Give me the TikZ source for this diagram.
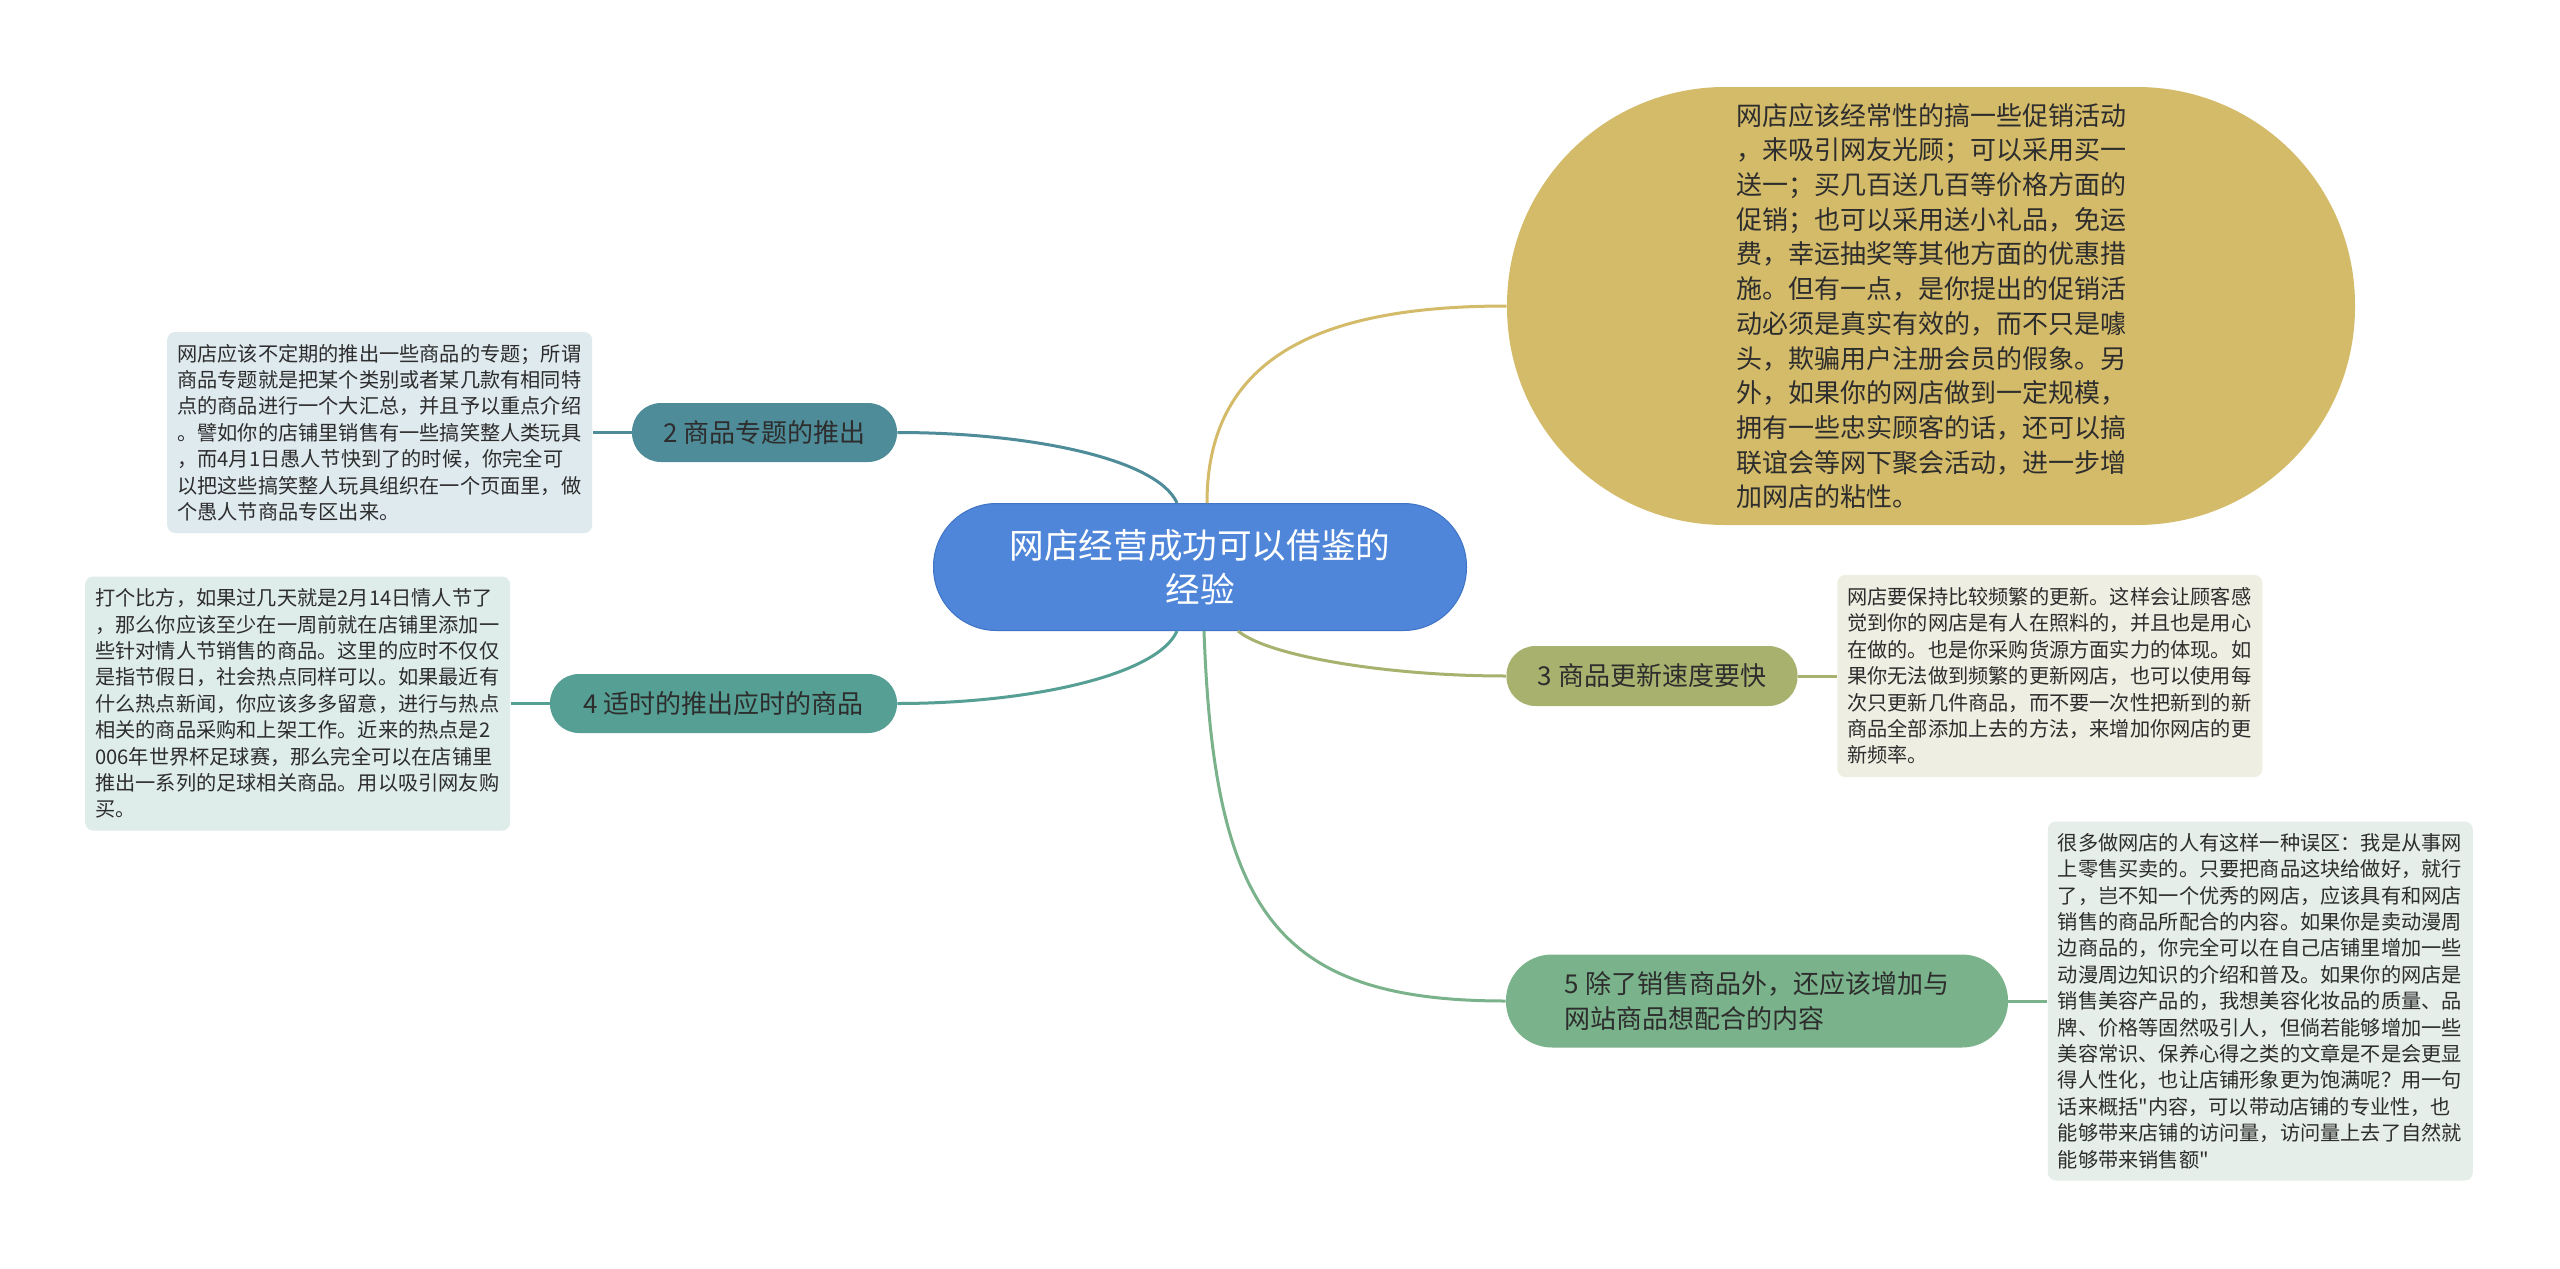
\documentclass[tikz,border=0pt]{standalone}
\usepackage{fontspec}
\usepackage{xcolor}
\usepackage{tikz}
\usetikzlibrary{positioning}
\newfontfamily\cjkfont{Noto Sans CJK SC}

\definecolor{rootblue}{RGB}{79,134,217}
\definecolor{rootedge}{RGB}{64,116,196}
\definecolor{goldfill}{RGB}{212,187,106}
\definecolor{tealfill}{RGB}{78,140,153}
\definecolor{seafill}{RGB}{86,159,148}
\definecolor{olivefill}{RGB}{168,177,110}
\definecolor{greenfill}{RGB}{122,179,139}
\definecolor{tealnote}{RGB}{223,234,239}
\definecolor{seanote}{RGB}{222,236,234}
\definecolor{olivenote}{RGB}{238,238,226}
\definecolor{greennote}{RGB}{229,238,232}
\definecolor{inktext}{RGB}{45,45,45}

\begin{document}
\begin{tikzpicture}[
    x=0.5pt, y=-0.5pt,
    node distance=19.5pt,
    topic/.style={rectangle,rounded corners=31.5pt,draw=rootedge,line width=0.5pt,fill=rootblue,text=white,align=center,minimum width=266.5pt,minimum height=63.5pt,font=\cjkfont\fontsize{17.3pt}{22pt}\selectfont},
    branch/.style={rectangle,align=left,text=inktext,minimum height=29.5pt,font=\cjkfont\fontsize{13pt}{17.5pt}\selectfont},
    note/.style={rectangle,rounded corners=4pt,align=left,text width=202.5pt,inner xsep=5pt,text=inktext,font=\cjkfont\fontsize{10.1pt}{13.2pt}\selectfont},
    link/.style={line width=1.5pt}
]
\path[use as bounding box,fill=white] (0,0) rectangle (2560,1269);

\node[topic] (root) at (1200,567) {网店经营成功可以借鉴的\\经验};

\node[branch,fill=goldfill,rounded corners=109pt,minimum width=424pt,minimum height=219pt,text width=195pt,font=\cjkfont\fontsize{13pt}{17.35pt}\selectfont] (n1) at (1931,306) {网店应该经常性的搞一些促销活动\\，来吸引网友光顾；可以采用买一\\送一；买几百送几百等价格方面的\\促销；也可以采用送小礼品，免运\\费，幸运抽奖等其他方面的优惠措\\施。但有一点，是你提出的促销活\\动必须是真实有效的，而不只是噱\\头，欺骗用户注册会员的假象。另\\外，如果你的网店做到一定规模，\\拥有一些忠实顾客的话，还可以搞\\联谊会等网下聚会活动，进一步增\\加网店的粘性。};
\node[branch,fill=tealfill,rounded corners=14.5pt,minimum width=132.5pt] (n2) at (764.5,432.5) {2 商品专题的推出};
\node[branch,fill=olivefill,rounded corners=14.5pt,minimum width=145.5pt,minimum height=30pt] (n3) at (1652,676) {3 商品更新速度要快};
\node[branch,fill=seafill,rounded corners=14.5pt,minimum width=173.5pt] (n4) at (723.5,703.5) {4 适时的推出应时的商品};
\node[branch,fill=greenfill,rounded corners=23pt,minimum width=251pt,minimum height=46.5pt] (n5) at (1757,1001) {5 除了销售商品外，还应该增加与\\网站商品想配合的内容};

\node[note,fill=tealnote,minimum height=100.5pt,left=of n2] (note2) {网店应该不定期的推出一些商品的专题；所谓\\商品专题就是把某个类别或者某几款有相同特\\点的商品进行一个大汇总，并且予以重点介绍\\。譬如你的店铺里销售有一些搞笑整人类玩具\\，而4月1日愚人节快到了的时候，你完全可\\以把这些搞笑整人玩具组织在一个页面里，做\\个愚人节商品专区出来。};
\node[note,fill=seanote,minimum height=127pt,left=of n4] (note4) {打个比方，如果过几天就是2月14日情人节了\\，那么你应该至少在一周前就在店铺里添加一\\些针对情人节销售的商品。这里的应时不仅仅\\是指节假日，社会热点同样可以。如果最近有\\什么热点新闻，你应该多多留意，进行与热点\\相关的商品采购和上架工作。近来的热点是2\\006年世界杯足球赛，那么完全可以在店铺里\\推出一系列的足球相关商品。用以吸引网友购\\买。};
\node[note,fill=olivenote,minimum height=101pt,right=of n3] (note3) {网店要保持比较频繁的更新。这样会让顾客感\\觉到你的网店是有人在照料的，并且也是用心\\在做的。也是你采购货源方面实力的体现。如\\果你无法做到频繁的更新网店，也可以使用每\\次只更新几件商品，而不要一次性把新到的新\\商品全部添加上去的方法，来增加你网店的更\\新频率。};
\node[note,fill=greennote,minimum height=179.5pt,right=of n5] (note5) {很多做网店的人有这样一种误区：我是从事网\\上零售买卖的。只要把商品这块给做好，就行\\了，岂不知一个优秀的网店，应该具有和网店\\销售的商品所配合的内容。如果你是卖动漫周\\边商品的，你完全可以在自己店铺里增加一些\\动漫周边知识的介绍和普及。如果你的网店是\\销售美容产品的，我想美容化妆品的质量、品\\牌、价格等固然吸引人，但倘若能够增加一些\\美容常识、保养心得之类的文章是不是会更显\\得人性化，也让店铺形象更为饱满呢？用一句\\话来概括"内容，可以带动店铺的专业性，也\\能够带来店铺的访问量，访问量上去了自然就\\能够带来销售额"};

\draw[link,goldfill] ([xshift=3.5pt]root.north) .. controls +(0,-150) and +(-180,0) .. (n1.west);
\draw[link,tealfill] ([xshift=-11.5pt]root.north) .. controls +(-20,-45) and +(130,0) .. (n2.east);
\draw[link,olivefill] ([xshift=19pt]root.south) .. controls +(30,25) and +(-120,0) .. (n3.west);
\draw[link,seafill] ([xshift=-11.5pt]root.south) .. controls +(-20,45) and +(130,0) .. (n4.east);
\draw[link,greenfill] ([xshift=2pt]root.south) .. controls +(10,280) and +(-230,0) .. (n5.west);
\draw[link,tealfill] (n2.west) -- (note2.east);
\draw[link,olivefill] (n3.east) -- (note3.west);
\draw[link,seafill] (n4.west) -- (note4.east);
\draw[link,greenfill] (n5.east) -- (note5.west);
\end{tikzpicture}
\end{document}
